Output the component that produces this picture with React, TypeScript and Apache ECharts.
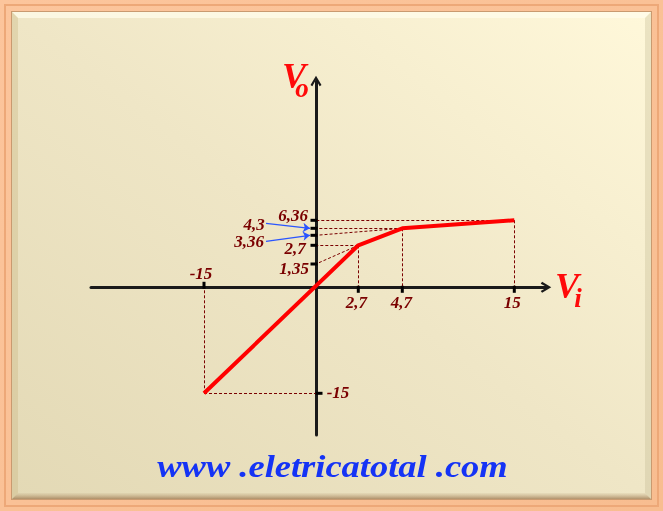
import React, { useEffect, useRef } from 'react';
import * as echarts from 'echarts';

// ---- data: transfer characteristic Vo x Vi (break points of the curve)
const viBreakpoints = [-15, 2.7, 4.7, 15];
const voBreakpoints = [-15, 2.7, 4.3, 6.36];

// ---- tick values and their labels
const xTickValues = [-15, 2.7, 4.7, 15];
const xTickLabels = ['-15', '2,7', '4,7', '15'];
const yTickValues = [-15, 1.35, 2.7, 3.36, 4.3, 6.36];
const yTickLabels = ['-15', '1,35', '2,7', '3,36', '4,3', '6,36'];

// slope guides: break point index -> intercept on the Vo axis
const guideBreakIndex = [1, 2];
const guideIntercepts = [1.35, 3.36];

// Vo ticks whose labels are pointed at by blue arrows
const arrowedTicks = [4.3, 3.36];

// ---- the drawing is schematic (not to scale): value -> position along each axis
const xScaleValues = [-15, 0, 2.7, 4.7, 15];
const xScalePos = [-112, 0, 42.3, 86.3, 198.3];
const yScaleValues = [-15, 0, 1.35, 2.7, 3.36, 4.3, 6.36];
const yScalePos = [-106, 0, 23.3, 42, 52, 59, 67];

function warp(v: number, vals: number[], pos: number[]): number {
  for (let i = 0; i < vals.length - 1; i++) {
    if (v <= vals[i + 1] || i === vals.length - 2) {
      const t = (v - vals[i]) / (vals[i + 1] - vals[i]);
      return pos[i] + t * (pos[i + 1] - pos[i]);
    }
  }
  return 0;
}
const wx = (v: number) => warp(v, xScaleValues, xScalePos);
const wy = (v: number) => warp(v, yScaleValues, yScalePos);

// ---- layout (label offsets from tick centre)
const xLabelOffsets = [[-3, -14], [-2, 15], [-1, 15], [-2, 15]];
const yLabelOffsets = [[22, -1], [-22, 4], [-21, 3], [-67, 6], [-62, -4], [-23, -5]];

const FONT = '"Liberation Serif", "DejaVu Serif", serif';
const LABEL_COLOR = '#7a0000';
const TITLE_COLOR = '#ff0a0a';

export default function App() {
  const ref = useRef<HTMLDivElement>(null);

  useEffect(() => {
    if (!ref.current) return;
    const chart = echarts.init(ref.current, undefined, { renderer: 'svg' });

    const curve = viBreakpoints.map((v, i) => [wx(v), wy(voBreakpoints[i])]);

    const guides: any[] = [];
    viBreakpoints.forEach((v, i) => {
      const px = wx(v);
      const py = wy(voBreakpoints[i]);
      guides.push({ coords: [[px, py], [px, 0]] });
      guides.push({ coords: [[px, py], [0, py]] });
    });
    guideBreakIndex.forEach((bi, k) => {
      guides.push({
        coords: [
          [wx(viBreakpoints[bi]), wy(voBreakpoints[bi])],
          [0, wy(guideIntercepts[k])],
        ],
      });
    });

    const arrows = arrowedTicks.map((t, k) => ({
      coords: [
        [-50, wy(t) + (k === 0 ? 5 : -6)],
        [-6, wy(t)],
      ],
    }));

    const tickMarks: any[] = [];
    xTickValues.forEach((v) => {
      tickMarks.push({
        value: [wx(v), 0],
        symbolSize: [3, 7],
        symbolOffset: [0, v < 0 ? -2 : 2],
      });
    });
    yTickValues.forEach((v) => {
      tickMarks.push({
        value: [0, wy(v)],
        symbolSize: [7, 3],
        symbolOffset: [v < 0 ? 3 : -2, 0],
      });
    });

    const tickLabels: any[] = [];
    xTickValues.forEach((v, i) => {
      tickLabels.push({
        value: [wx(v), 0],
        label: { formatter: xTickLabels[i], offset: xLabelOffsets[i] },
      });
    });
    yTickValues.forEach((v, i) => {
      tickLabels.push({
        value: [0, wy(v)],
        label: { formatter: yTickLabels[i], offset: yLabelOffsets[i] },
      });
    });

    const W = 663;
    const H = 511;
    const B = 12;
    const arrowPath = 'path://M6,0 L12,10 L10,11.5 L6,4.5 L2,11.5 L0,10 Z';

    const title = (text: string, x: number, y: number, size: number, lh: number) => ({
      type: 'text',
      z: 10,
      x,
      y,
      style: {
        text,
        fill: TITLE_COLOR,
        font: `italic bold ${size}px ${FONT}`,
        lineHeight: lh,
        align: 'center',
        verticalAlign: 'middle',
      },
    });

    const option: any = {
      animation: false,
      backgroundColor: 'transparent',
      grid: { left: 91, top: 81, width: 455, height: 354, containLabel: false },
      xAxis: {
        type: 'value',
        min: -225,
        max: 230,
        axisLine: {
          onZero: true,
          symbol: ['none', arrowPath],
          symbolSize: [11, 13],
          lineStyle: { color: '#1a1a1a', width: 3 },
        },
        axisTick: { show: false },
        axisLabel: { show: false },
        splitLine: { show: false },
      },
      yAxis: {
        type: 'value',
        min: -147.7,
        max: 206.3,
        axisLine: {
          onZero: true,
          symbol: ['none', arrowPath],
          symbolSize: [11, 13],
          lineStyle: { color: '#1a1a1a', width: 3 },
        },
        axisTick: { show: false },
        axisLabel: { show: false },
        splitLine: { show: false },
      },
      series: [
        {
          type: 'lines',
          coordinateSystem: 'cartesian2d',
          z: 1,
          silent: true,
          lineStyle: { color: '#7a0000', width: 1, type: [3, 2], opacity: 1 },
          data: guides,
        },
        {
          type: 'line',
          z: 3,
          symbol: 'none',
          lineStyle: { color: '#ff0000', width: 4 },
          data: curve,
        },
        {
          type: 'lines',
          coordinateSystem: 'cartesian2d',
          z: 4,
          silent: true,
          symbol: ['none', 'arrow'],
          symbolSize: 7,
          lineStyle: { color: '#2a55ff', width: 1.2, opacity: 1 },
          data: arrows,
        },
        {
          type: 'scatter',
          z: 5,
          symbol: 'rect',
          itemStyle: { color: '#000', opacity: 1 },
          data: tickMarks,
        },
        {
          type: 'scatter',
          z: 6,
          symbolSize: 1,
          itemStyle: { color: 'rgba(0,0,0,0)', opacity: 1 },
          label: {
            show: true,
            position: 'inside',
            color: LABEL_COLOR,
            textBorderWidth: 0,
            fontFamily: FONT,
            fontSize: 17,
            lineHeight: 13,
            fontWeight: 'bold',
            fontStyle: 'italic',
          },
          data: tickLabels,
        },
      ],
      graphic: {
        elements: [
          {
            type: 'rect',
            z: -20,
            silent: true,
            shape: { x: 0, y: 0, width: W, height: H },
            style: {
              fill: new echarts.graphic.LinearGradient(0, 0, 1, 1, [
                { offset: 0, color: '#fcc59c' },
                { offset: 1, color: '#f8bd90' },
              ]),
            },
          },
          {
            type: 'rect',
            z: -19,
            silent: true,
            shape: { x: 5, y: 5, width: W - 10, height: H - 10 },
            style: { fill: 'none', stroke: '#eda878', lineWidth: 2 },
          },
          {
            type: 'rect',
            z: -18,
            silent: true,
            shape: { x: B - 1, y: B - 1, width: W - 2 * B + 2, height: H - 2 * B + 2 },
            style: { fill: '#c99a70' },
          },
          {
            type: 'rect',
            z: -17,
            silent: true,
            shape: { x: B, y: B, width: W - 2 * B, height: H - 2 * B },
            style: {
              fill: new echarts.graphic.LinearGradient(1, 0, 0, 1, [
                { offset: 0, color: '#fff8da' },
                { offset: 0.5, color: '#efe6c6' },
                { offset: 1, color: '#e3d9b5' },
              ]),
            },
          },
          {
            type: 'polygon',
            z: -16,
            silent: true,
            shape: { points: [[B, B], [W - B, B], [W - B - 6, B + 6], [B + 6, B + 6]] },
            style: { fill: 'rgba(255,252,235,0.75)' },
          },
          {
            type: 'polygon',
            z: -16,
            silent: true,
            shape: { points: [[B, B], [B + 6, B + 6], [B + 6, H - B - 6], [B, H - B]] },
            style: { fill: 'rgba(200,180,130,0.35)' },
          },
          {
            type: 'polygon',
            z: -16,
            silent: true,
            shape: { points: [[W - B, B], [W - B, H - B], [W - B - 6, H - B - 6], [W - B - 6, B + 6]] },
            style: { fill: 'rgba(190,180,140,0.3)' },
          },
          {
            type: 'polygon',
            z: -16,
            silent: true,
            shape: { points: [[B, H - B], [W - B, H - B], [W - B - 6, H - B - 6], [B + 6, H - B - 6]] },
            style: {
              fill: new echarts.graphic.LinearGradient(0, 0, 0, 1, [
                { offset: 0, color: 'rgba(180,150,110,0.1)' },
                { offset: 1, color: 'rgba(150,110,70,0.7)' },
              ]),
            },
          },
          // axis titles: V with subscript
          title('V', 294, 76, 36, 14),
          title('o', 302, 88, 27, 9),
          title('V', 567, 285.5, 36, 14),
          title('i', 578, 298, 27, 9),
          {
            type: 'text',
            z: 10,
            x: 332.5,
            y: 466,
            scaleX: 1.14,
            style: {
              text: 'www .eletricatotal .com',
              fill: '#1533f5',
              font: `italic bold 32px ${FONT}`,
              align: 'center',
              verticalAlign: 'middle',
            },
          },
        ],
      },
    };

    chart.setOption(option);
    return () => chart.dispose();
  }, []);

  return (
    <div
      ref={ref}
      style={{ position: 'fixed', left: 0, top: 0, width: 663, height: 511 }}
    />
  );
}
